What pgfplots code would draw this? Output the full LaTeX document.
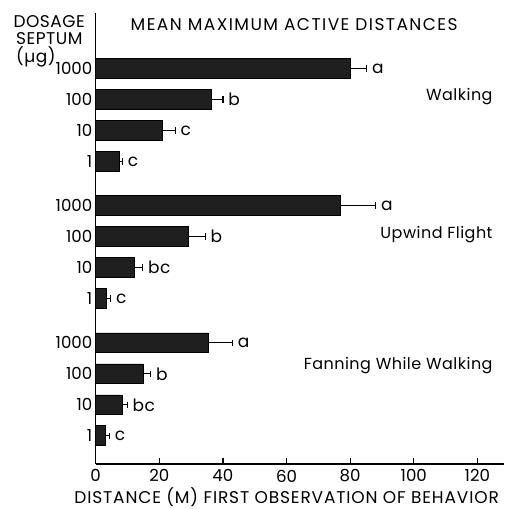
\documentclass[border=0pt]{standalone}
\usepackage{fontspec}
\setmainfont{Poppins}[LetterSpace=3]
\usepackage{pgfplots}
\pgfplotsset{compat=1.18}
\usepackage{pgfplotstable}

\pgfplotstableread{
y x e lab
12.75 80.2 5.0 a
11.75 36.3 3.7 b
10.75 21.0 4.0 c
9.75 7.4 1.0 c
8.33 77.0 11.0 a
7.33 29.1 5.3 b
6.33 12.1 2.7 bc
5.33 3.5 1.2 c
3.9 35.4 7.6 a
2.9 15.0 2.3 b
1.9 8.4 1.5 bc
0.9 3.0 1.3 c
}\datatable

\begin{document}
\fontsize{8.5}{10}\selectfont
\begin{tikzpicture}
\begin{axis}[
 scale only axis, width=204.2pt, height=225.3pt,
 xmin=0, xmax=128.4, ymin=0, ymax=14.54,
 axis lines=left, axis line style={-, line width=0.8pt},
 xtick={0,20,...,120}, tick align=inside, major tick length=3pt,
 xtick style={line width=0.6pt, black},
 ytick={0.9,1.9,2.9,3.9,5.33,6.33,7.33,8.33,9.75,10.75,11.75,12.75},
 yticklabels={1,10,100,1000,1,10,100,1000,1,10,100,1000},
 ytick style={draw=none},
 tick label style={font=\fontsize{8.3}{10}\selectfont\addfontfeature{LetterSpace=0}},
 yticklabel style={inner xsep=0pt, xshift=-1.5pt},
 /pgf/number format/assume math mode=true,
 clip=false,
]
\addplot[xbar, bar width=0.64, fill=black!88, draw=black,
  error bars/.cd, x dir=plus, x explicit, error mark=|,
  error bar style={line width=0.5pt, black}, error mark options={mark size=1.6pt, black, line width=0.6pt}]
  table[x=x, y=y, x error=e]{\datatable};
\addplot[draw=none, mark=none, forget plot, nodes near coords, point meta=explicit symbolic,
  nodes near coords style={anchor=west, inner sep=1pt, xshift=1.5pt, black}]
  table[x expr=\thisrow{x}+\thisrow{e}, y=y, meta=lab]{\datatable};
\node[anchor=base, inner sep=0pt, font=\addfontfeature{LetterSpace=8.5}] at (axis cs:62.4,13.97) {MEAN MAXIMUM ACTIVE DISTANCES};
\node[anchor=base, inner sep=0pt] at (axis cs:-14.6,14.06) {DOSAGE};
\node[anchor=base, inner sep=0pt] at (axis cs:-14.6,13.52) {SEPTUM};
\node[anchor=base, inner sep=0pt] at (axis cs:-18.8,12.96) {(µg)};
\node[anchor=base east, inner sep=0pt, font=\fontsize{8}{10}\selectfont] at (axis cs:124.9,11.71) {Walking};
\node[anchor=base east, inner sep=0pt, font=\fontsize{8}{10}\selectfont] at (axis cs:124.9,7.28) {Upwind Flight};
\node[anchor=base east, inner sep=0pt, font=\fontsize{8}{10}\selectfont] at (axis cs:124.9,3.05) {Fanning While Walking};
\node[anchor=base west, inner sep=0pt, font=\addfontfeature{LetterSpace=5}] at (axis cs:-6.8,0) [yshift=-20pt] {DISTANCE (M) FIRST OBSERVATION OF BEHAVIOR};
\end{axis}
\pgfresetboundingbox
\path[use as bounding box] (-47.85pt,-22.65pt) rectangle (204.15pt,231.85pt);
\end{tikzpicture}
\end{document}
